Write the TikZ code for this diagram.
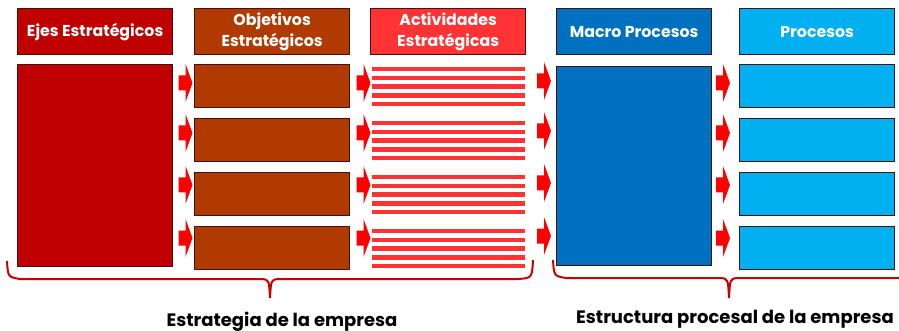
\documentclass[tikz,border=0pt]{standalone}
\usepackage{fontspec}
\setmainfont{Poppins}
\usetikzlibrary{positioning,calc}
\definecolor{ejes}{RGB}{192,0,0}
\definecolor{objet}{RGB}{176,58,0}
\definecolor{activ}{RGB}{255,51,51}
\definecolor{macro}{RGB}{0,112,192}
\definecolor{proc}{RGB}{0,176,240}
\definecolor{edge}{RGB}{70,16,16}
\definecolor{braceline}{RGB}{200,0,0}

\begin{document}
\begin{tikzpicture}[x=1pt, y=-1pt,
    box/.style = {draw=edge, line width=1.3pt, minimum width=155pt, inner sep=0pt, anchor=north west},
    head/.style = {box, minimum height=46pt, text=white, align=center, font=\bfseries\fontsize{15.8}{20.5}\selectfont},
    row/.style = {box, minimum height=43pt},
    stripe/.style = {draw=activ, line width=4.4pt},
    bracket/.style = {draw=braceline, line width=2pt},
    caption/.style = {anchor=base, font=\bfseries\fontsize{18}{20}\selectfont},
    blockarrow/.pic = {\fill[red] (-7,-7.5) -- (0,-7.5) -- (0,-19) -- (7,0) -- (0,19) -- (0,7.5) -- (-7,7.5) -- cycle;}]
    \useasboundingbox (0,0) rectangle (899,331);
    % titles
    \node[head, fill=ejes] (h1) at (17,8) {Ejes Estratégicos};
    \node[head, fill=objet] (h2) at (194,8) {Objetivos\\Estratégicos};
    \node[head, fill=activ] (h3) at (370,8) {Actividades\\Estratégicas};
    \node[head, fill=macro] (h4) at (556,8) {Macro Procesos};
    \node[head, fill=proc] (h5) at (739,8) {Procesos};
    % body
    \node[box, fill=ejes, minimum height=202pt] (ejes) at (17,64) {};
    \node[box, fill=macro, minimum height=199pt] (macro) at (556,66) {};
    \foreach \i/\top/\ay in {1/64/83, 2/118/133, 3/172/185, 4/226/238} {
        \node[row, fill=objet] (o\i) at (194,\top) {};
        \node[row, fill=proc] (p\i) at (739,\top) {};
        \coordinate (a\i) at (372,\top+5);
        \foreach \k in {0,...,4}
            \draw[stripe] ($(a\i)+(0,8.8*\k)$) -- ++(153,0);
        \pic at (185.5,\ay) {blockarrow};
        \pic at (363.5,\ay) {blockarrow};
        \pic at (544,\ay-2) {blockarrow};
        \pic at (723,\ay) {blockarrow};
    }
    % braces
    \coordinate (b1) at (7,261);
    \coordinate (b2) at (533,260);
    \coordinate (c1) at (553,260);
    \draw[bracket] (b1) .. controls (8,277) .. (20,279) -- (262,279) .. controls (269,280) .. (270,298)
        .. controls (271,280) .. (278,279) -- (518,279) .. controls (532,278) .. (b2);
    \draw[bracket] (c1) .. controls (554,276) .. (566,278) -- (721,278) .. controls (728,279) .. (729,298)
        .. controls (730,279) .. (737,278) -- (905,278);
    \node[caption] (t1) at (282,326) {Estrategia de la empresa};
    \node[caption] (t2) at (735,323) {Estructura procesal de la empresa};
\end{tikzpicture}
\end{document}
